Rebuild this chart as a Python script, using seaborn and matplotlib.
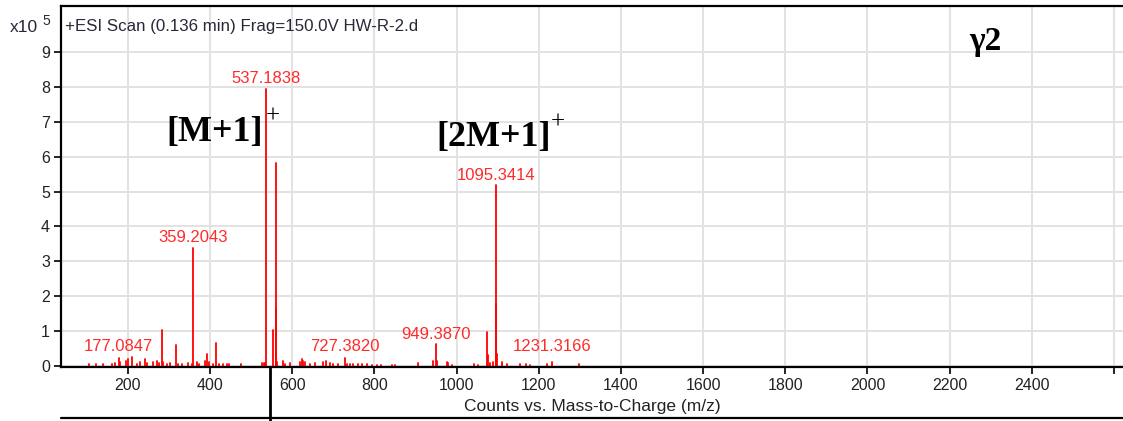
import numpy as np
import pandas as pd
import matplotlib
matplotlib.use("Agg")
import matplotlib.pyplot as plt
from matplotlib.lines import Line2D
import seaborn as sns

# ---------------- data (intensity in units of 1e5 counts) ----------------
peak_mz = [105.9, 123.4, 139.2, 160.4, 168.4, 177.0847, 180.6, 195.2, 200.8, 209.1,
           221.2, 229.3, 241.0, 247.0, 260.0, 271.0, 275.0, 282.0, 286.0, 294.0,
           302.0, 316.0, 322.0, 331.0, 347.0, 355.0, 359.2043, 369.0, 374.0, 387.0,
           391.6, 397.0, 408.0, 415.0, 422.0, 432.0, 440.0, 447.0, 475.0, 527.0,
           531.0, 534.0, 537.1838, 553.2, 559.17, 560.17, 561.2, 562.2, 576.5, 583.0,
           594.0, 619.0, 624.0, 627.0, 631.0, 643.0, 655.0, 675.0, 682.0, 692.0,
           700.0, 712.0, 727.382, 732.0, 740.0, 748.0, 760.0, 770.0, 782.0, 793.0,
           806.0, 817.0, 842.0, 850.0, 907.0, 943.0, 949.387, 951.4, 976.0, 980.0,
           988.0, 1043.0, 1053.0, 1073.3, 1075.3, 1081.0, 1088.0, 1095.3414, 1096.34, 1097.35,
           1110.0, 1122.0, 1154.0, 1170.0, 1178.0, 1219.0, 1231.3166, 1298.0]
peak_intensity = [0.05, 0.05, 0.05, 0.06, 0.08, 0.22, 0.10, 0.15, 0.20, 0.25,
                  0.05, 0.10, 0.20, 0.08, 0.10, 0.15, 0.08, 1.02, 0.12, 0.06,
                  0.08, 0.60, 0.05, 0.05, 0.08, 0.05, 3.38, 0.12, 0.05, 0.15,
                  0.34, 0.12, 0.05, 0.65, 0.05, 0.06, 0.05, 0.05, 0.06, 0.08,
                  0.08, 0.08, 7.95, 1.02, 5.83, 1.65, 0.35, 0.10, 0.15, 0.05,
                  0.08, 0.10, 0.20, 0.15, 0.12, 0.05, 0.08, 0.12, 0.15, 0.08,
                  0.06, 0.06, 0.22, 0.05, 0.05, 0.05, 0.06, 0.05, 0.05, 0.04,
                  0.04, 0.04, 0.04, 0.04, 0.08, 0.15, 0.62, 0.15, 0.12, 0.08,
                  0.04, 0.06, 0.04, 0.98, 0.30, 0.08, 0.10, 5.18, 1.78, 0.35,
                  0.10, 0.06, 0.05, 0.05, 0.04, 0.06, 0.10, 0.05]
labeled_mz = [177.0847, 359.2043, 537.1838, 727.3820, 949.3870, 1095.3414, 1231.3166]

x_ticks = [200, 400, 600, 800, 1000, 1200, 1400, 1600, 1800, 2000, 2200, 2400, 2600]
x_tick_labels = ["200", "400", "600", "800", "1000", "1200", "1400", "1600",
                 "1800", "2000", "2200", "2400", ""]
y_ticks = [0, 1, 2, 3, 4, 5, 6, 7, 8, 9]

header_text = "+ESI Scan (0.136 min) Frag=150.0V HW-R-2.d"
x_label = "Counts vs. Mass-to-Charge (m/z)"

# ---------------- build stick table ----------------
rows = []
for i, (m, h) in enumerate(zip(peak_mz, peak_intensity)):
    rows.append((i, m, 0.0))
    rows.append((i, m, h))
df = pd.DataFrame(rows, columns=["peak", "mz", "counts"])

sns.set_theme(style="white")
plt.rcParams["font.family"] = ["Liberation Sans", "DejaVu Sans"]

W, H = 1123, 421
fig = plt.figure(figsize=(W / 100, H / 100), dpi=100)
ax_l, ax_r, ax_t, ax_b = 61, 1123, 6, 367
ax = fig.add_axes([ax_l / W, 1 - ax_b / H, (ax_r - ax_l) / W, (ax_b - ax_t) / H])

sns.lineplot(data=df, x="mz", y="counts", units="peak", estimator=None, sort=False,
             color="#ff0000", lw=1.3, ax=ax, legend=False)

ax.set_xlim(37, 2622)
ax.set_ylim(-0.03, 10.32)
ax.set_xticks(x_ticks)
ax.set_xticklabels(x_tick_labels)
ax.set_yticks(y_ticks)
ax.set_yticklabels([str(v) for v in y_ticks])
ax.grid(True, color="#e2e2e2", lw=1.4)
ax.set_axisbelow(True)
for s in ["left", "bottom", "top"]:
    ax.spines[s].set_visible(True)
    ax.spines[s].set_color("black")
    ax.spines[s].set_linewidth(1.6)
ax.spines["right"].set_visible(False)
ax.tick_params(axis="both", direction="out", length=5, width=1.2, color="black",
               labelsize=11.5, labelcolor="#222222", bottom=True, left=True, pad=3)
ax.set_ylabel("")
ax.set_xlabel(x_label, fontsize=12.5, color="#222222")
ax.xaxis.label.set_va("center")
ax.xaxis.set_label_coords(0.5, (ax_b - 406) / (ax_b - ax_t))

# peak labels
pm = np.array(peak_mz)
pi = np.array(peak_intensity)
for m in labeled_mz:
    win = np.abs(pm - m) < 70
    y = max(pi[win].max(), 0.25)
    ax.annotate(f"{m:.4f}", xy=(m, y), xytext=(0, 2), textcoords="offset points",
                ha="center", va="bottom", color="#ff2a2a", fontsize=12)

# ion annotations
serif = ["Liberation Serif", "DejaVu Serif"]
def fx(px):
    return (px - ax_l) / (ax_r - ax_l)
def fy(py):
    return (ax_b - py) / (ax_b - ax_t)
ax.text(fx(166), fy(141), "[M+1]", transform=ax.transAxes, family=serif,
        fontweight="bold", fontsize=26, ha="left", va="baseline", color="black")
ax.text(fx(266), fy(117), "+", transform=ax.transAxes, family=serif,
        fontsize=18, ha="left", va="center", color="black")
ax.text(fx(436), fy(146), "[2M+1]", transform=ax.transAxes, family=serif,
        fontweight="bold", fontsize=26, ha="left", va="baseline", color="black")
ax.text(fx(551), fy(123), "+", transform=ax.transAxes, family=serif,
        fontsize=18, ha="left", va="center", color="black")
ax.text(fx(985), fy(50), "γ2", transform=ax.transAxes, family=serif,
        fontweight="bold", fontsize=24, ha="center", va="baseline", color="black")

# header texts
fig.text(65 / W, 1 - 27 / H, header_text, fontsize=12.2, color="#2a2638",
         ha="left", va="center")
fig.text(38 / W, 1 - 28 / H, "x10", fontsize=12.5, color="#2a2638", ha="right", va="center")
fig.text(42 / W, 1 - 21 / H, "5", fontsize=10, color="#2a2638", ha="left", va="center")

# frame lines below the axis (next panel border and cursor)
fig.add_artist(Line2D([ax_l / W, 1.0], [1 - 418 / H] * 2, color="black", lw=1.6))
fig.add_artist(Line2D([270 / W] * 2, [1 - ax_b / H, 0.0], color="black", lw=2.0))

fig.savefig("out.png", dpi=100)
